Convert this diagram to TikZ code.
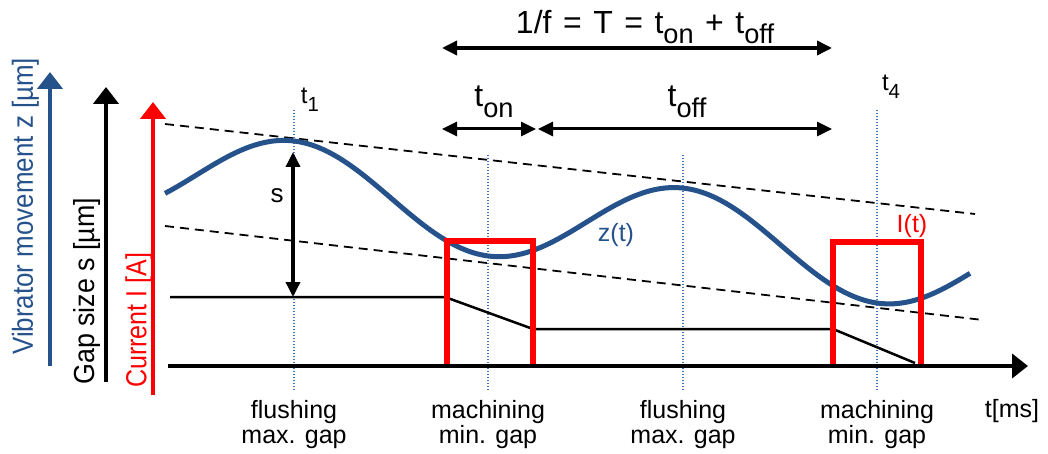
\documentclass[tikz,border=0pt]{standalone}
\usepackage{fontspec}
\usepackage{graphicx}
\setmainfont{Liberation Sans}
\usetikzlibrary{arrows.meta}
\definecolor{zblue}{RGB}{38,82,140}
\definecolor{dotblue}{RGB}{68,114,196}
\definecolor{ired}{RGB}{255,0,0}
\newcommand\lowsub[1]{\raisebox{-0.33em}{\scalebox{0.85}{#1}}}
\newcommand\fitlen[2]{\resizebox{#1}{\height}{#2}}
\newcommand\wsp{\hspace{0.36em}}
\tikzset{
  lbl/.style={font=\fontsize{25}{25}\selectfont, inner sep=0pt, align=center},
  biglbl/.style={font=\fontsize{32}{36}\selectfont, inner sep=0pt},
  axlbl/.style={font=\fontsize{29}{32}\selectfont, rotate=90, anchor=west, inner sep=0pt},
  axisarrow/.style={line width=4.5pt, -{Triangle[length=17pt,width=25pt]}},
  dimarrow/.style={line width=3.5pt, {Triangle[length=15pt,width=14pt]}-{Triangle[length=15pt,width=14pt]}},
  guide/.style={dotblue, line width=1.2pt, dash pattern=on 1.2pt off 1.8pt},
  trend/.style={black, line width=1.8pt, dash pattern=on 9pt off 6pt},
  pulse/.style={ired, line width=6pt, line join=miter},
}
\begin{document}
\begin{tikzpicture}[x=1pt,y=-1pt]
\useasboundingbox (0,0) rectangle (1048,454);
% trend lines
\coordinate (ua) at (165,124); \coordinate (ub) at (975,214);
\coordinate (la) at (165,226); \coordinate (lb) at (983,320);
\draw[trend] (ua) -- (ub);
\draw[trend] (la) -- (lb);
% guides
\foreach \n/\x/\y in {g1/294/110, g2/488/155, g3/683/155, g4/877/110}{
  \coordinate (\n t) at (\x,\y); \coordinate (\n b) at (\x,390);
  \draw[guide] (\n t) -- (\n b);
}
% gap line
\coordinate (s0) at (170,297); \coordinate (s1) at (445,297);
\coordinate (s2) at (533,329); \coordinate (s3) at (833,329);
\coordinate (s4) at (915,363);
\draw[line width=2.5pt] (s0) -- (s1) -- (s2) -- (s3) -- (s4);
% vibrator curve
\draw[zblue, line width=5pt] plot[domain=165:970, samples=220, smooth]
  (\x, {186.75+0.121*(\x-294)-45.75*cos(0.923077*(\x-294))});
% pulses
\coordinate (p1a) at (447,365); \coordinate (p1b) at (533,241); \coordinate (p1c) at (533,365);
\coordinate (p2a) at (833,365); \coordinate (p2b) at (921,242); \coordinate (p2c) at (921,365);
\draw[pulse] (p1a) |- (p1b) -- (p1c);
\draw[pulse] (p2a) |- (p2b) -- (p2c);
% axes
\coordinate (zb) at (50,366); \coordinate (zt) at (50,72);
\coordinate (sb) at (106,382); \coordinate (st) at (106,87);
\coordinate (ib) at (153,395); \coordinate (it) at (153,102);
\draw[axisarrow, zblue] (zb) -- (zt);
\draw[axisarrow, black] (sb) -- (st);
\draw[axisarrow, ired] (ib) -- (it);
\coordinate (xa) at (168,366); \coordinate (xb) at (1028,366);
\draw[line width=4pt, -{Triangle[length=16pt,width=24pt]}] (xa) -- (xb);
% dimension arrows
\coordinate (sa) at (293,152); \coordinate (sbb) at (293,297);
\draw[dimarrow] (sa) -- (sbb);
\coordinate (ta) at (442,48); \coordinate (tb) at (832,48);
\draw[dimarrow] (ta) -- (tb);
\coordinate (ona) at (442,129); \coordinate (onb) at (536,129);
\coordinate (ofa) at (538,129); \coordinate (ofb) at (832,129);
\draw[dimarrow, line width=3pt] (ona) -- (onb);
\draw[dimarrow, line width=3pt] (ofa) -- (ofb);
% labels
\node[biglbl] (T) at (645,27) {1/f\wsp=\wsp T\wsp=\wsp t\lowsub{on}\wsp+\wsp t\lowsub{off}};
\node[biglbl] (ton) at (494,102) {t\lowsub{on}};
\node[biglbl] (toff) at (687,102) {t\lowsub{off}};
\node[lbl, font=\fontsize{24}{28}\selectfont] (t1) at (310,100) {t\lowsub{1}};
\node[lbl, font=\fontsize{24}{28}\selectfont] (t4) at (891,87) {t\lowsub{4}};
\node[lbl, font=\fontsize{26}{30}\selectfont] (s) at (277,196) {s};
\node[lbl, text=zblue] (zt) at (616,235) {z(t)};
\node[lbl, text=ired] (It) at (912,226) {I(t)};
\node[lbl] (b1) at (294,425) {flushing\\max. gap};
\node[lbl] (b2) at (488,425) {machining\\min. gap};
\node[lbl] (b3) at (683,425) {flushing\\max. gap};
\node[lbl] (b4) at (877,425) {machining\\min. gap};
\node[lbl] (tms) at (1012,411) {t[ms]};
\node[axlbl, text=zblue] (lz) at (25.5,355) {\fitlen{297pt}{Vibrator movement z [µm]}};
\node[axlbl] (ls) at (87,385) {\fitlen{187pt}{Gap size s [µm]}};
\node[axlbl, text=ired] (li) at (139,388) {\fitlen{135pt}{Current I [A]}};
\end{tikzpicture}
\end{document}
